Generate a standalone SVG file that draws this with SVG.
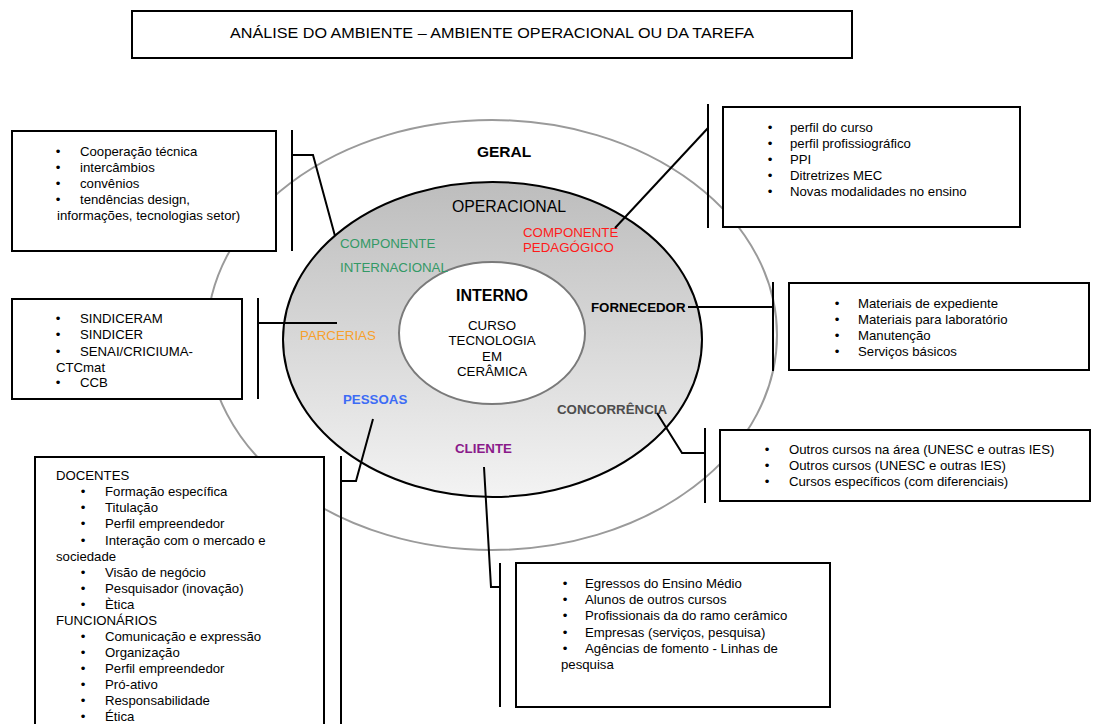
<svg xmlns="http://www.w3.org/2000/svg" width="1093" height="724" viewBox="0 0 1093 724">
  <style>
    text { font-family: "Liberation Sans", Arial, sans-serif; fill: #000; }
    .t { font-size: 13.2px; }
    .b { font-size: 13.2px; text-anchor: middle; }
    .lbl { font-size: 13.3px; }
    .bold { font-weight: bold; }
    .box { fill: #fff; stroke: #000; stroke-width: 2; }
    .bar { stroke: #000; stroke-width: 2; fill: none; }
    .con { stroke: #000; stroke-width: 2; fill: none; stroke-linejoin: miter; }
  </style>
  <defs>
    <linearGradient id="opGrad" x1="0" y1="0" x2="0" y2="1">
      <stop offset="0" stop-color="#bdbdbd"/>
      <stop offset="1" stop-color="#f3f3f3"/>
    </linearGradient>
  </defs>
  <rect width="1093" height="724" fill="#fff"/>

  <!-- title -->
  <g id="title">
    <rect class="box" x="132" y="11" width="720" height="47"/>
    <text x="492" y="38" font-size="14.5" text-anchor="middle" textLength="524" lengthAdjust="spacingAndGlyphs">ANÁLISE DO AMBIENTE – AMBIENTE OPERACIONAL OU DA TAREFA</text>
  </g>

  <!-- environment rings -->
  <g id="geral">
    <ellipse cx="492" cy="335" rx="285" ry="215" fill="none" stroke="#9a9a9a" stroke-width="2"/>
    <text x="504" y="157" font-size="15.5" font-weight="bold" text-anchor="middle">GERAL</text>
  </g>
  <g id="operacional">
    <ellipse cx="492.5" cy="339.5" rx="209.5" ry="157.5" fill="url(#opGrad)" stroke="#000" stroke-width="2"/>
    <text x="509" y="212" font-size="15.8" text-anchor="middle">OPERACIONAL</text>
  </g>
  <g id="interno">
    <ellipse cx="492" cy="333" rx="93" ry="71" fill="#fff" stroke="#7a7a7a" stroke-width="2"/>
    <text x="492" y="301" font-size="16" font-weight="bold" text-anchor="middle">INTERNO</text>
    <text class="lbl" x="492" y="330" text-anchor="middle">CURSO</text>
    <text class="lbl" x="492" y="345" text-anchor="middle">TECNOLOGIA</text>
    <text class="lbl" x="492" y="361" text-anchor="middle">EM</text>
    <text class="lbl" x="492" y="376" text-anchor="middle">CERÂMICA</text>
  </g>

  <!-- ring labels -->
  <g id="lbl-internacional">
    <text class="lbl" x="340" y="248" fill="#339966" style="fill:#339966">COMPONENTE</text>
    <text class="lbl" x="340" y="272" style="fill:#339966">INTERNACIONAL</text>
  </g>
  <g id="lbl-pedagogico">
    <text class="lbl" x="523" y="237" style="fill:#ff1a1a">COMPONENTE</text>
    <text class="lbl" x="523" y="252" style="fill:#ff1a1a">PEDAGÓGICO</text>
  </g>
  <g id="lbl-fornecedor">
    <text class="lbl bold" x="591" y="312">FORNECEDOR</text>
  </g>
  <g id="lbl-parcerias">
    <text class="lbl" x="300" y="340" style="fill:#f7a02c">PARCERIAS</text>
  </g>
  <g id="lbl-pessoas">
    <text class="lbl bold" x="343" y="404" style="fill:#3d6cf5">PESSOAS</text>
  </g>
  <g id="lbl-concorrencia">
    <text class="lbl bold" x="557" y="414" style="fill:#4d4d4d" font-size="12.9">CONCORRÊNCIA</text>
  </g>
  <g id="lbl-cliente">
    <text class="lbl bold" x="455" y="453" style="fill:#8a1a8a">CLIENTE</text>
  </g>

  <!-- connectors -->
  <g id="connectors">
    <line class="bar" x1="292" y1="130" x2="292" y2="251"/>
    <polyline class="con" points="335,236 313,155 292,155"/>
    <line class="bar" x1="708" y1="104" x2="708" y2="228"/>
    <line class="con" x1="615" y1="228" x2="708" y2="128"/>
    <line class="bar" x1="258" y1="298" x2="258" y2="399"/>
    <line class="con" x1="258" y1="323" x2="337" y2="323"/>
    <line class="bar" x1="773" y1="282" x2="773" y2="371"/>
    <line class="con" x1="688" y1="307" x2="773" y2="307"/>
    <line class="bar" x1="705" y1="428" x2="705" y2="503"/>
    <polyline class="con" points="657,413 682,453 705,453"/>
    <line class="bar" x1="341" y1="456" x2="341" y2="724"/>
    <polyline class="con" points="373,419 356,481 341,481"/>
    <line class="bar" x1="500" y1="563" x2="500" y2="707"/>
    <polyline class="con" points="484,467 491,587 500,587"/>
  </g>

  <!-- international cooperation -->
  <g id="box-internacional">
    <rect class="box" x="12" y="131" width="264" height="120"/>
    <text class="b" x="58" y="156">•</text><text class="t" x="80" y="156">Cooperação técnica</text>
    <text class="b" x="58" y="172">•</text><text class="t" x="80" y="172">intercâmbios</text>
    <text class="b" x="58" y="188">•</text><text class="t" x="80" y="188">convênios</text>
    <text class="b" x="58" y="204">•</text><text class="t" x="80" y="204">tendências design,</text>
    <text class="t" x="57" y="220">informações, tecnologias setor)</text>
  </g>

  <!-- pedagogical component -->
  <g id="box-pedagogico">
    <rect class="box" x="723" y="107" width="297" height="120"/>
    <text class="b" x="770" y="131.5">•</text><text class="t" x="790" y="131.5">perfil do curso</text>
    <text class="b" x="770" y="147.5">•</text><text class="t" x="790" y="147.5">perfil profissiográfico</text>
    <text class="b" x="770" y="163.5">•</text><text class="t" x="790" y="163.5">PPI</text>
    <text class="b" x="770" y="179.5">•</text><text class="t" x="790" y="179.5">Ditretrizes MEC</text>
    <text class="b" x="770" y="195.5">•</text><text class="t" x="790" y="195.5">Novas modalidades no ensino</text>
  </g>

  <!-- partnerships -->
  <g id="box-parcerias">
    <rect class="box" x="12" y="299" width="230" height="100"/>
    <text class="b" x="58" y="323">•</text><text class="t" x="80" y="323">SINDICERAM</text>
    <text class="b" x="58" y="339">•</text><text class="t" x="80" y="339">SINDICER</text>
    <text class="b" x="58" y="355.5">•</text><text class="t" x="80" y="355.5">SENAI/CRICIUMA-</text>
    <text class="t" x="56" y="371.5">CTCmat</text>
    <text class="b" x="58" y="387">•</text><text class="t" x="80" y="387">CCB</text>
  </g>

  <!-- suppliers -->
  <g id="box-fornecedor">
    <rect class="box" x="789" y="283" width="300" height="87"/>
    <text class="b" x="837" y="307.5">•</text><text class="t" x="858" y="307.5">Materiais de expediente</text>
    <text class="b" x="837" y="323.5">•</text><text class="t" x="858" y="323.5">Materiais para laboratório</text>
    <text class="b" x="837" y="339.5">•</text><text class="t" x="858" y="339.5">Manutenção</text>
    <text class="b" x="837" y="355.5">•</text><text class="t" x="858" y="355.5">Serviços básicos</text>
  </g>

  <!-- competition -->
  <g id="box-concorrencia">
    <rect class="box" x="720" y="430" width="370" height="71"/>
    <text class="b" x="767" y="454">•</text><text class="t" x="789" y="454">Outros cursos na área (UNESC e outras IES)</text>
    <text class="b" x="767" y="469.5">•</text><text class="t" x="789" y="469.5">Outros cursos (UNESC e outras IES)</text>
    <text class="b" x="767" y="485.5">•</text><text class="t" x="789" y="485.5">Cursos específicos (com diferenciais)</text>
  </g>

  <!-- people -->
  <g id="box-pessoas">
    <rect class="box" x="35" y="457" width="289" height="280"/>
    <text class="t" x="56" y="480">DOCENTES</text>
    <text class="b" x="83" y="496">•</text><text class="t" x="105" y="496">Formação específica</text>
    <text class="b" x="83" y="512">•</text><text class="t" x="105" y="512">Titulação</text>
    <text class="b" x="83" y="528">•</text><text class="t" x="105" y="528">Perfil empreendedor</text>
    <text class="b" x="83" y="544.5">•</text><text class="t" x="105" y="544.5">Interação com o mercado e</text>
    <text class="t" x="56" y="560.5">sociedade</text>
    <text class="b" x="83" y="576.5">•</text><text class="t" x="105" y="576.5">Visão de negócio</text>
    <text class="b" x="83" y="592.5">•</text><text class="t" x="105" y="592.5">Pesquisador (inovação)</text>
    <text class="b" x="83" y="608.5">•</text><text class="t" x="105" y="608.5">Ètica</text>
    <text class="t" x="56" y="625">FUNCIONÁRIOS</text>
    <text class="b" x="83" y="641">•</text><text class="t" x="105" y="641">Comunicação e expressão</text>
    <text class="b" x="83" y="657">•</text><text class="t" x="105" y="657">Organização</text>
    <text class="b" x="83" y="673">•</text><text class="t" x="105" y="673">Perfil empreendedor</text>
    <text class="b" x="83" y="689">•</text><text class="t" x="105" y="689">Pró-ativo</text>
    <text class="b" x="83" y="705">•</text><text class="t" x="105" y="705">Responsabilidade</text>
    <text class="b" x="83" y="721">•</text><text class="t" x="105" y="721">Ética</text>
  </g>

  <!-- clients -->
  <g id="box-cliente">
    <rect class="box" x="516" y="563" width="314" height="144"/>
    <text class="b" x="565" y="588">•</text><text class="t" x="585" y="588">Egressos do Ensino Médio</text>
    <text class="b" x="565" y="604">•</text><text class="t" x="585" y="604">Alunos de outros cursos</text>
    <text class="b" x="565" y="620">•</text><text class="t" x="585" y="620">Profissionais da do ramo cerâmico</text>
    <text class="b" x="565" y="636.5">•</text><text class="t" x="585" y="636.5">Empresas (serviços, pesquisa)</text>
    <text class="b" x="565" y="652.5">•</text><text class="t" x="585" y="652.5">Agências de fomento - Linhas de</text>
    <text class="t" x="561" y="668.5">pesquisa</text>
  </g>
</svg>
